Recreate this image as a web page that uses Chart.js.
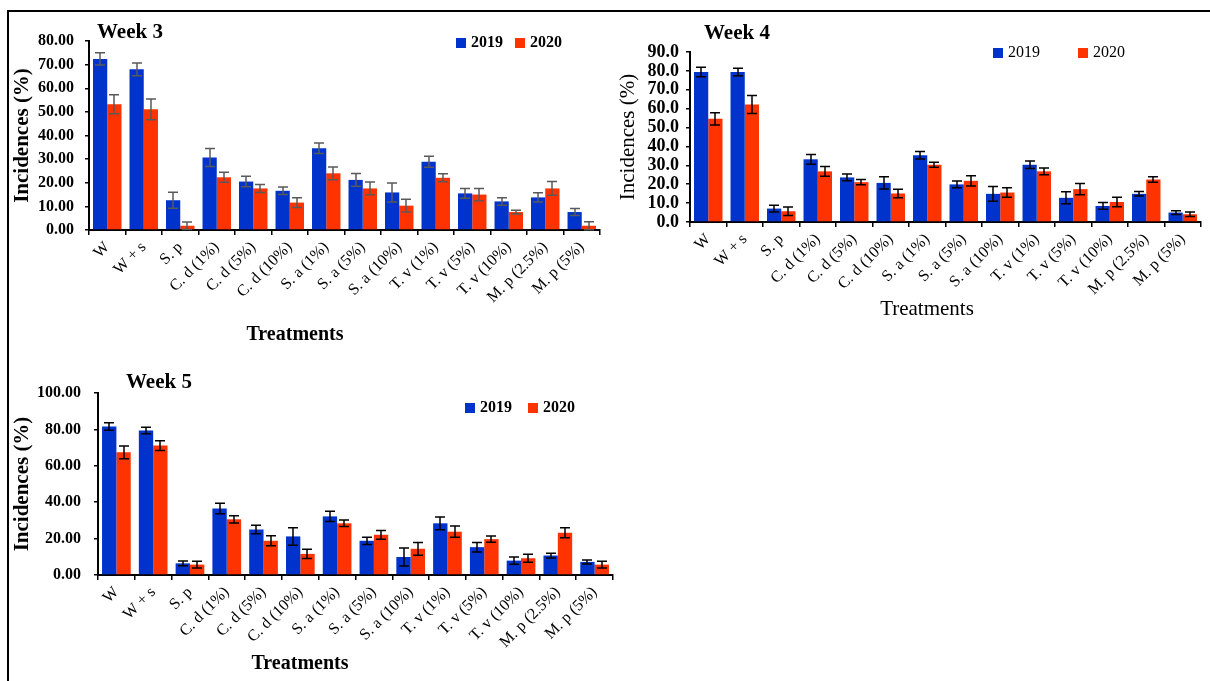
<!DOCTYPE html>
<html>
<head>
<meta charset="utf-8">
<title>Incidences by treatment</title>
<script src="https://cdn.jsdelivr.net/npm/chart.js@4.4.1/dist/chart.umd.min.js"></script>
<style>
    html, body { margin: 0; padding: 0; background: #fff; width: 1210px; height: 681px; overflow: hidden; }
    body { position: relative; }
    #frame { position: absolute; left: 7px; top: 10px; width: 1230px; height: 700px; border: 2px solid #000; box-sizing: border-box; }
    canvas { position: absolute; }
    #week3 { left: 10px; top: 13px; }
    #week4 { left: 612px; top: 13px; }
    #week5 { left: 10px; top: 360px; }
</style>
</head>
<body>
<div id="frame"></div>
<canvas id="week3" width="600" height="345"></canvas>
<canvas id="week4" width="596" height="310"></canvas>
<canvas id="week5" width="610" height="321"></canvas>

<script>
// Data -----------------------------------------------------------------------------------

var TREATMENTS = ['W', 'W + s', 'S. p', 'C. d (1%)', 'C. d (5%)', 'C. d (10%)', 'S. a (1%)',
    'S. a (5%)', 'S. a (10%)', 'T. v (1%)', 'T. v (5%)', 'T. v (10%)', 'M. p (2.5%)', 'M. p (5%)'];
var YEARS = ['2019', '2020'];

var WEEK3_2019 = [72.4, 68.0, 12.6, 30.7, 20.5, 16.6, 34.6, 21.2, 15.9, 28.9, 15.5, 12.1, 13.8, 7.6];
var WEEK3_2020 = [53.2, 51.1, 1.8, 22.3, 17.6, 11.6, 24.0, 17.6, 10.3, 22.1, 15.0, 7.6, 17.6, 1.8];
var WEEK3_ERR_2019 = [2.6, 2.7, 3.4, 3.8, 2.2, 1.6, 2.2, 2.7, 4.0, 2.3, 2.1, 1.6, 2.0, 1.5];
var WEEK3_ERR_2020 = [4.0, 4.4, 1.6, 2.1, 1.7, 2.1, 2.7, 2.7, 2.7, 1.7, 2.6, 0.8, 2.9, 1.7];

var WEEK4_2019 = [79.4, 79.4, 7.1, 33.2, 23.6, 20.7, 35.3, 19.9, 14.9, 30.3, 12.8, 8.5, 14.9, 5.0];
var WEEK4_2020 = [54.6, 62.2, 5.7, 26.8, 21.1, 15.1, 30.3, 21.8, 15.6, 26.8, 17.4, 10.6, 22.5, 4.1];
var WEEK4_ERR_2019 = [2.5, 2.0, 1.8, 2.6, 1.8, 3.2, 2.0, 1.8, 3.9, 2.0, 3.2, 1.8, 1.2, 1.0];
var WEEK4_ERR_2020 = [3.2, 4.8, 2.3, 2.6, 1.4, 2.2, 1.3, 2.7, 2.5, 1.8, 3.0, 2.5, 1.4, 1.2];

var WEEK5_2019 = [81.6, 79.4, 6.4, 36.5, 25.0, 21.2, 32.2, 18.8, 9.9, 28.4, 15.3, 7.9, 10.7, 7.2];
var WEEK5_2020 = [67.4, 71.1, 5.7, 30.6, 18.8, 11.6, 28.4, 22.1, 14.4, 23.8, 19.7, 9.2, 23.2, 5.7];
var WEEK5_ERR_2019 = [2.0, 1.8, 1.3, 2.9, 2.4, 4.8, 2.8, 2.0, 5.0, 3.5, 2.6, 2.0, 1.3, 1.1];
var WEEK5_ERR_2020 = [3.5, 2.7, 1.9, 2.0, 2.7, 2.6, 1.8, 2.4, 3.5, 3.1, 1.7, 2.2, 2.8, 1.9];

// Constants ------------------------------------------------------------------------------

var FONT = "'Liberation Serif', 'Times New Roman', serif";
var TEXT_COLOR = '#000';
var COLOR_2019 = '#0033cc';
var COLOR_2020 = '#ff3300';
var LEGEND_BOX = 10;

// Plugins --------------------------------------------------------------------------------

var errorBarPlugin = {
    id: 'errorBars',
    afterDatasetsDraw: function(chart, args, options) {
        var ctx = chart.ctx;
        var yScale = chart.scales.y;
        var half = options.capWidth / 2;

        ctx.save();
        ctx.strokeStyle = options.color;
        ctx.lineWidth = options.lineWidth;

        chart.data.datasets.forEach(function(dataset, i) {
            var meta = chart.getDatasetMeta(i);
            meta.data.forEach(function(bar, j) {
                var value = dataset.data[j];
                var err = dataset.errors[j];
                var top = yScale.getPixelForValue(value + err);
                var bottom = yScale.getPixelForValue(Math.max(value - err, 0));
                var x = Math.round(bar.x);

                ctx.beginPath();
                ctx.moveTo(x, top);
                ctx.lineTo(x, bottom);
                ctx.moveTo(x - half, top);
                ctx.lineTo(x + half, top);
                ctx.moveTo(x - half, bottom);
                ctx.lineTo(x + half, bottom);
                ctx.stroke();
            });
        });

        ctx.restore();
    }
};

// panel heading, x axis title and the year legend
var panelTextPlugin = {
    id: 'panelText',
    afterDraw: function(chart, args, options) {
        var ctx = chart.ctx;
        ctx.save();
        ctx.textBaseline = 'middle';
        ctx.fillStyle = TEXT_COLOR;

        ctx.font = options.titleFont;
        ctx.textAlign = 'left';
        ctx.fillText(options.title, options.titleX, options.titleY);

        ctx.font = options.xTitleFont;
        ctx.textAlign = 'center';
        ctx.fillText(options.xTitle, options.xTitleX, options.xTitleY);

        ctx.font = options.legendFont;
        ctx.textAlign = 'left';
        var x = options.legendX;
        chart.data.datasets.forEach(function(dataset) {
            ctx.fillStyle = dataset.backgroundColor;
            ctx.fillRect(x, options.legendY - LEGEND_BOX / 2, LEGEND_BOX, LEGEND_BOX);
            x += LEGEND_BOX + options.legendTextGap;
            ctx.fillStyle = TEXT_COLOR;
            ctx.fillText(dataset.label, x, options.legendY);
            x += ctx.measureText(dataset.label).width + options.legendGap;
        });

        ctx.restore();
    }
};

// Functions ------------------------------------------------------------------------------

function createPanel(canvasId, series, errors, panel) {
    var context = document.getElementById(canvasId).getContext('2d');

    var datasets = [{
        label: YEARS[0],
        data: series[0],
        errors: errors[0],
        backgroundColor: COLOR_2019,
        borderWidth: 0
    }, {
        label: YEARS[1],
        data: series[1],
        errors: errors[1],
        backgroundColor: COLOR_2020,
        borderWidth: 0
    }];

    return new Chart(context, {
        type: 'bar',
        data: {
            labels: TREATMENTS,
            datasets: datasets
        },
        options: {
            responsive: false,
            animation: false,
            categoryPercentage: 0.78,
            barPercentage: 1.0,
            layout: {
                padding: { left: 0, top: panel.top, right: panel.right, bottom: 0 }
            },
            scales: {
                x: {
                    afterFit: function(scale) { scale.height = panel.xHeight; },
                    border: { display: true, color: '#000', width: 2 },
                    grid: { drawOnChartArea: false, drawTicks: true, tickLength: 5, color: '#000', lineWidth: 1.5 },
                    ticks: {
                        color: TEXT_COLOR,
                        minRotation: 45,
                        maxRotation: 45,
                        autoSkip: false,
                        padding: 3,
                        font: { family: FONT, size: 16 }
                    }
                },
                y: {
                    min: 0,
                    max: panel.yMax,
                    afterFit: function(scale) { scale.width = panel.left; },
                    border: { display: true, color: '#000', width: 2 },
                    grid: { drawOnChartArea: false, drawTicks: true, tickLength: 4, color: '#000', lineWidth: 1.5 },
                    ticks: {
                        stepSize: panel.yStep,
                        autoSkip: false,
                        color: TEXT_COLOR,
                        padding: panel.tickPadding,
                        font: { family: FONT, size: panel.tickSize, weight: 'bold' },
                        callback: function(value) { return value.toFixed(panel.decimals); }
                    },
                    title: {
                        display: true,
                        text: 'Incidences (%)',
                        color: TEXT_COLOR,
                        padding: { top: panel.yTitlePad, bottom: 0 },
                        font: { family: FONT, size: 21, weight: panel.yTitleWeight }
                    }
                }
            },
            plugins: {
                legend: { display: false },
                tooltip: { enabled: false },
                errorBars: { color: panel.errorColor, lineWidth: 1.5, capWidth: 10 },
                panelText: {
                    title: panel.title,
                    titleX: panel.titleX,
                    titleY: panel.titleY,
                    titleFont: 'bold 21px ' + FONT,
                    xTitle: 'Treatments',
                    xTitleX: panel.xTitleX,
                    xTitleY: panel.xTitleY,
                    xTitleFont: panel.xTitleFont + ' ' + FONT,
                    legendX: panel.legendX,
                    legendY: panel.legendY,
                    legendTextGap: 5,
                    legendGap: panel.legendGap,
                    legendFont: panel.legendFont + ' ' + FONT
                }
            }
        },
        plugins: [errorBarPlugin, panelTextPlugin]
    });
}

// Charts ---------------------------------------------------------------------------------

createPanel('week3', [WEEK3_2019, WEEK3_2020], [WEEK3_ERR_2019, WEEK3_ERR_2020], {
    title: 'Week 3', titleX: 87, titleY: 20,
    left: 79, top: 28, right: 10, xHeight: 128,
    yMax: 80, yStep: 10, decimals: 2, tickSize: 16, tickPadding: 11,
    yTitlePad: 0, yTitleWeight: 'bold',
    xTitleX: 285, xTitleY: 322, xTitleFont: 'bold 20px',
    legendX: 446, legendY: 30, legendGap: 12, legendFont: 'bold 16px',
    errorColor: '#595959'
});

createPanel('week4', [WEEK4_2019, WEEK4_2020], [WEEK4_ERR_2019, WEEK4_ERR_2020], {
    title: 'Week 4', titleX: 92, titleY: 21,
    left: 78, top: 39, right: 7, xHeight: 101,
    yMax: 90, yStep: 10, decimals: 1, tickSize: 18, tickPadding: 7,
    yTitlePad: 4, yTitleWeight: 'normal',
    xTitleX: 315, xTitleY: 296, xTitleFont: '21px',
    legendX: 381, legendY: 40, legendGap: 38, legendFont: '16px',
    errorColor: '#000'
});

createPanel('week5', [WEEK5_2019, WEEK5_2020], [WEEK5_ERR_2019, WEEK5_ERR_2020], {
    title: 'Week 5', titleX: 116, titleY: 23,
    left: 88, top: 33, right: 7, xHeight: 106,
    yMax: 100, yStep: 20, decimals: 2, tickSize: 16, tickPadding: 13,
    yTitlePad: 0, yTitleWeight: 'bold',
    xTitleX: 290, xTitleY: 304, xTitleFont: 'bold 20px',
    legendX: 455, legendY: 48, legendGap: 16, legendFont: 'bold 16px',
    errorColor: '#000'
});
</script>
</body>
</html>
